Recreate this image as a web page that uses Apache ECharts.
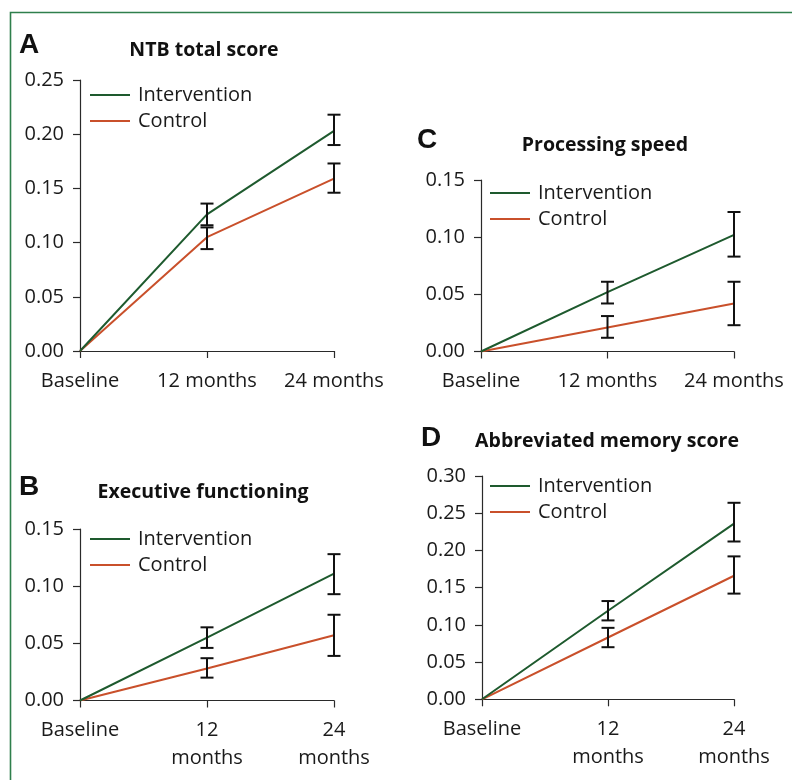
<!DOCTYPE html>
<html>
<head>
<meta charset="utf-8">
<script src="https://cdn.jsdelivr.net/npm/echarts@6/dist/echarts.min.js"></script>
<style>
html,body{margin:0;padding:0;background:#fff;}
#chart{width:792px;height:780px;}
</style>
</head>
<body>
<div id="chart"></div>
<script>
// ---------- data ----------
var catsOneLine = ['Baseline', '12 months', '24 months'];
var catsTwoLine = ['Baseline', '12\nmonths', '24\nmonths'];
var seriesNames = ['Intervention', 'Control'];

// Panel A: NTB total score
var ntbInt = [0, 0.126, 0.203];
var ntbIntLow = [null, 0.116, 0.190];
var ntbIntHigh = [null, 0.136, 0.218];
var ntbCtl = [0, 0.105, 0.159];
var ntbCtlLow = [null, 0.094, 0.146];
var ntbCtlHigh = [null, 0.114, 0.173];

// Panel B: Executive functioning
var exeInt = [0, 0.055, 0.111];
var exeIntLow = [null, 0.046, 0.093];
var exeIntHigh = [null, 0.064, 0.128];
var exeCtl = [0, 0.028, 0.057];
var exeCtlLow = [null, 0.020, 0.039];
var exeCtlHigh = [null, 0.037, 0.075];

// Panel C: Processing speed
var proInt = [0, 0.052, 0.102];
var proIntLow = [null, 0.042, 0.083];
var proIntHigh = [null, 0.061, 0.122];
var proCtl = [0, 0.021, 0.042];
var proCtlLow = [null, 0.012, 0.023];
var proCtlHigh = [null, 0.031, 0.061];

// Panel D: Abbreviated memory score
var memInt = [0, 0.119, 0.236];
var memIntLow = [null, 0.106, 0.212];
var memIntHigh = [null, 0.132, 0.264];
var memCtl = [0, 0.083, 0.166];
var memCtlLow = [null, 0.070, 0.142];
var memCtlHigh = [null, 0.096, 0.192];

// y-axis maxima (ticks every 0.05)
var yMaxA = 0.25, yMaxB = 0.15, yMaxC = 0.15, yMaxD = 0.30;

// ---------- styling ----------
var GREEN = '#1e5a2e';
var ORANGE = '#c9502b';
var FONT = 'Open Sans';
var AXIS_COLOR = '#2a2a2a';

var panels = [
  {letter: 'A', title: 'NTB total score', cats: catsOneLine, yMax: yMaxA,
   grid: {left: 80, top: 80, width: 254, height: 271},
   legend: {left: 85, top: 80},
   letterPos: [19, 45], titlePos: [204, 50],
   data: [ntbInt, ntbIntLow, ntbIntHigh, ntbCtl, ntbCtlLow, ntbCtlHigh]},
  {letter: 'B', title: 'Executive functioning', cats: catsTwoLine, yMax: yMaxB,
   grid: {left: 80, top: 529, width: 254, height: 171.5},
   legend: {left: 85, top: 524},
   letterPos: [19, 487], titlePos: [203, 492],
   data: [exeInt, exeIntLow, exeIntHigh, exeCtl, exeCtlLow, exeCtlHigh]},
  {letter: 'C', title: 'Processing speed', cats: catsOneLine, yMax: yMaxC,
   grid: {left: 481, top: 180, width: 253, height: 171.5},
   legend: {left: 485, top: 178},
   letterPos: [417, 140], titlePos: [605, 145],
   data: [proInt, proIntLow, proIntHigh, proCtl, proCtlLow, proCtlHigh]},
  {letter: 'D', title: 'Abbreviated memory score', cats: catsTwoLine, yMax: yMaxD,
   grid: {left: 482, top: 476, width: 252, height: 223.3},
   legend: {left: 485, top: 471},
   letterPos: [421, 438], titlePos: [607, 441],
   data: [memInt, memIntLow, memIntHigh, memCtl, memCtlLow, memCtlHigh]}
];

function errData(low, high) {
  var out = [];
  for (var i = 0; i < low.length; i++) {
    if (low[i] != null) out.push([i, low[i], high[i]]);
  }
  return out;
}

function renderErr(params, api) {
  var x = api.value(0);
  var lo = api.coord([x, api.value(1)]);
  var hi = api.coord([x, api.value(2)]);
  var hw = 6.5;
  var st = {stroke: '#111', lineWidth: 2};
  return {
    type: 'group',
    children: [
      {type: 'line', shape: {x1: hi[0], y1: hi[1], x2: lo[0], y2: lo[1]}, style: st},
      {type: 'line', shape: {x1: hi[0] - hw, y1: hi[1], x2: hi[0] + hw, y2: hi[1]}, style: st},
      {type: 'line', shape: {x1: lo[0] - hw, y1: lo[1], x2: lo[0] + hw, y2: lo[1]}, style: st}
    ]
  };
}

var grids = [], xAxes = [], yAxes = [], series = [], legends = [], graphics = [];

graphics.push({
  type: 'rect', left: 8, top: 10, z: -1,
  shape: {x: 0, y: 0, width: 820, height: 820},
  style: {fill: 'none', stroke: '#2f7f4c', lineWidth: 1.6}
});

panels.forEach(function (p, i) {
  grids.push(p.grid);
  xAxes.push({
    type: 'category', gridIndex: i, data: p.cats, boundaryGap: false,
    axisLine: {lineStyle: {color: AXIS_COLOR, width: 1.2}},
    axisTick: {show: true, length: 7, lineStyle: {color: AXIS_COLOR, width: 1.2}},
    axisLabel: {color: '#1a1a1a', fontFamily: FONT, fontSize: 20, margin: 16, lineHeight: 28,
      interval: 0, showMinLabel: true, showMaxLabel: true},
    splitLine: {show: false}
  });
  yAxes.push({
    type: 'value', gridIndex: i, min: 0, max: p.yMax, interval: 0.05,
    axisLine: {show: true, lineStyle: {color: AXIS_COLOR, width: 1.2}},
    axisTick: {show: true, length: 7, lineStyle: {color: AXIS_COLOR, width: 1.2}},
    axisLabel: {color: '#1a1a1a', fontFamily: FONT, fontSize: 20, margin: 16,
      formatter: function (v) { return v.toFixed(2); }},
    splitLine: {show: false}
  });
  var d = p.data;
  series.push({
    name: seriesNames[0], type: 'line', xAxisIndex: i, yAxisIndex: i, data: d[0],
    symbol: 'none', lineStyle: {color: GREEN, width: 2}, itemStyle: {color: GREEN}, z: 3
  });
  series.push({
    name: seriesNames[1], type: 'line', xAxisIndex: i, yAxisIndex: i, data: d[3],
    symbol: 'none', lineStyle: {color: ORANGE, width: 2}, itemStyle: {color: ORANGE}, z: 2
  });
  series.push({
    type: 'custom', xAxisIndex: i, yAxisIndex: i, data: errData(d[1], d[2]),
    renderItem: renderErr, encode: {x: 0, y: [1, 2]}, z: 5, silent: true
  });
  series.push({
    type: 'custom', xAxisIndex: i, yAxisIndex: i, data: errData(d[4], d[5]),
    renderItem: renderErr, encode: {x: 0, y: [1, 2]}, z: 5, silent: true
  });
  legends.push({
    left: p.legend.left, top: p.legend.top, orient: 'vertical',
    data: seriesNames, icon: 'rect', itemWidth: 40, itemHeight: 2, itemGap: 6,
    selectedMode: false,
    textStyle: {fontFamily: FONT, fontSize: 20, color: '#1a1a1a', lineHeight: 20, padding: [0, 0, 0, 3]}
  });
  graphics.push({
    type: 'text', x: p.letterPos[0], y: p.letterPos[1],
    style: {text: p.letter, fontFamily: 'Liberation Sans', fontWeight: 'bold', fontSize: 28,
      fill: '#111', textAlign: 'left', textVerticalAlign: 'middle'}
  });
  graphics.push({
    type: 'text', x: p.titlePos[0], y: p.titlePos[1],
    style: {text: p.title, fontFamily: FONT, fontWeight: 'bold', fontSize: 19.5,
      fill: '#111', textAlign: 'center', textVerticalAlign: 'middle'}
  });
});

var chart = echarts.init(document.getElementById('chart'), null, {renderer: 'canvas'});
chart.setOption({
  backgroundColor: '#ffffff',
  animation: false,
  grid: grids,
  xAxis: xAxes,
  yAxis: yAxes,
  legend: legends,
  series: series,
  graphic: graphics
});
</script>
</body>
</html>
